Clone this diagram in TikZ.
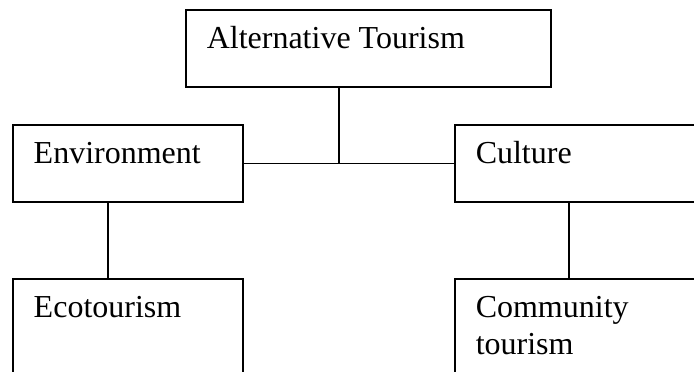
\documentclass[tikz,border=0pt]{standalone}
\usepackage{fontspec}
\setmainfont{Liberation Serif}
\begin{document}
\begin{tikzpicture}[x=1pt, y=-1pt, line width=1.5pt,
		box/.style={draw, rectangle, anchor=north west, inner sep=0pt, minimum height=77pt},
		lbl/.style={anchor=base west, inner sep=0pt, font=\fontsize{32}{37}\selectfont}]
		\useasboundingbox (0,0) rectangle (694,372);
		\clip (0,0) rectangle (694,372);
		
		\node[box, minimum width=365pt] (alt) at (185,9) {};
		\node[box, minimum width=230pt] (env) at (12,124) {};
		\node[box, minimum width=260pt] (cul) at (454,124) {};
		\node[box, minimum width=230pt, minimum height=130pt] (eco) at (12,278) {};
		\node[box, minimum width=260pt, minimum height=130pt] (com) at (454,278) {};
		
		\foreach \b/\t in {alt/Alternative Tourism, env/Environment, cul/Culture, eco/Ecotourism, com/Community\\tourism}
		{
			\node[lbl] (\b-t) at ([xshift=21pt, yshift=-39pt]\b.north west) {\begin{tabular}[t]{@{}l@{}}\t\end{tabular}};
		}
		
		\coordinate (j) at (339,163);
		\coordinate (e) at (108,0);
		\coordinate (c) at (569,0);
		\draw (alt.south -| j) -- (j);
		\draw (env.east) -- (cul.west);
		\draw (env.south -| e) -- (eco.north -| e);
		\draw (cul.south -| c) -- (com.north -| c);
	\end{tikzpicture}
\end{document}
